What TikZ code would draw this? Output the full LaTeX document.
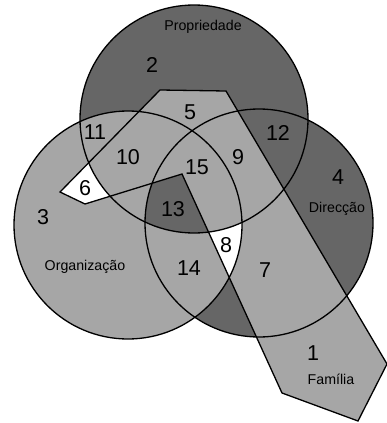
\documentclass[tikz,border=0pt]{standalone}
\usepackage{fontspec}
\setmainfont{Liberation Sans}
\definecolor{dk}{RGB}{102,102,102}
\definecolor{lt}{RGB}{166,166,166}
\begin{document}
\begin{tikzpicture}[x=1pt,y=-1pt,
  num/.style={font=\fontsize{21.5}{21.5}\selectfont},
  lbl/.style={font=\fontsize{14.2}{14.2}\selectfont},
  outline/.style={draw=black,line width=1.3pt}]
\useasboundingbox (0,0) rectangle (387,423);
% base fills
\fill[dk] (194,119) circle[radius=114];
\fill[dk] (259,223) circle[radius=114];
\fill[lt] (128,225) circle[radius=114];
\begin{scope}
  \clip (194,119) circle[radius=114];
  \clip (259,223) circle[radius=114];
  \fill[dk] (128,225) circle[radius=114];
\end{scope}
\fill[lt] (160,90) -- (226,91) -- (387,364) -- (358,421) -- (282,393) -- (182,174) -- (85,204) -- (60,192) -- cycle;
\begin{scope}
  \clip (128,225) circle[radius=114];
  \fill[white] (160,90) -- (226,91) -- (387,364) -- (358,421) -- (282,393) -- (182,174) -- (85,204) -- (60,192) -- cycle;
\end{scope}
\begin{scope}
  \clip (128,225) circle[radius=114];
  \clip (194,119) circle[radius=114];
  \fill[lt] (160,90) -- (226,91) -- (387,364) -- (358,421) -- (282,393) -- (182,174) -- (85,204) -- (60,192) -- cycle;
\end{scope}
% outlines
\draw[outline] (194,119) circle[radius=114];
\draw[outline] (259,223) circle[radius=114];
\draw[outline] (128,225) circle[radius=114];
\draw[outline] (160,90) -- (226,91) -- (387,364) -- (358,421) -- (282,393) -- (182,174) -- (85,204) -- (60,192) -- cycle;
% labels
\node[lbl] (tprop) at (203,27) {Propriedade};
\node[lbl] (tdir) at (337,209) {Direcção};
\node[lbl] (torg) at (85,267) {Organização};
\node[lbl] (tfam) at (331,379) {Família};
\node[num] (n1) at (313,353) {1};
\node[num] (n2) at (152,65) {2};
\node[num] (n3) at (43,217) {3};
\node[num] (n4) at (338,177) {4};
\node[num] (n5) at (190,112) {5};
\node[num] (n6) at (85,188) {6};
\node[num] (n7) at (265,270) {7};
\node[num] (n8) at (226,245) {8};
\node[num] (n9) at (238,157) {9};
\node[num] (n10) at (128,157) {10};
\node[num] (n11) at (95,132) {11};
\node[num] (n12) at (278,133) {12};
\node[num] (n13) at (173,209) {13};
\node[num] (n14) at (189,268) {14};
\node[num] (n15) at (197,167) {15};
\end{tikzpicture}
\end{document}
